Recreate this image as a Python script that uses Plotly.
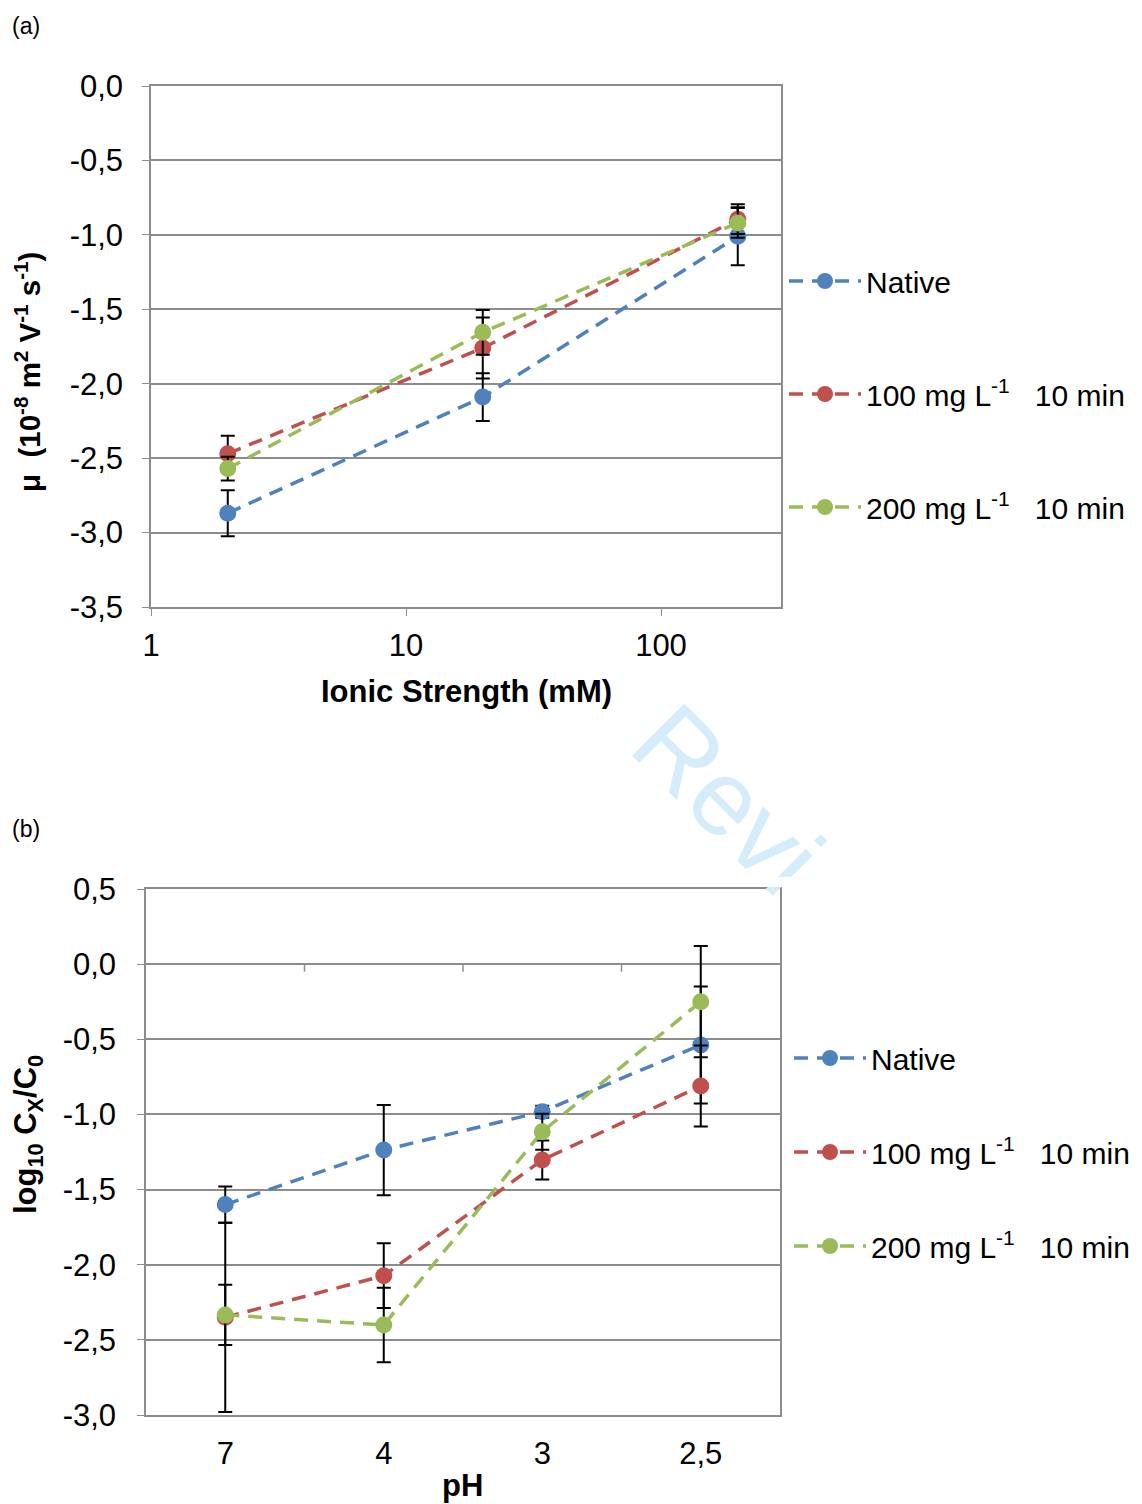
import plotly.graph_objects as go

# page is shown with an 8 px body margin, so the figure is offset by 8 px
W, H = 1134, 1496
PAD = 8

# (a) mobility vs ionic strength
ionic_mM = [2, 20, 200]
mu_native = [-2.87, -2.09, -1.01]
mu_native_err = [0.155, 0.16, 0.195]
mu_100 = [-2.47, -1.76, -0.895]
mu_100_err = [0.12, 0.205, 0.10]
mu_200 = [-2.57, -1.655, -0.92]
mu_200_err = [0.08, 0.15, 0.10]
mu_ticks = [0.0, -0.5, -1.0, -1.5, -2.0, -2.5, -3.0, -3.5]
mu_ticktext = ["0,0", "-0,5", "-1,0", "-1,5", "-2,0", "-2,5", "-3,0", "-3,5"]
ionic_ticks = [1, 10, 100]

# (b) log reduction vs pH
ph_labels = ["7", "4", "3", "2,5"]
lr_native = [-1.60, -1.237, -0.982, -0.538]
lr_native_err = [0.12, 0.30, 0.04, 0.39]
lr_100 = [-2.35, -2.073, -1.303, -0.811]
lr_100_err = [0.63, 0.215, 0.13, 0.27]
lr_200 = [-2.334, -2.401, -1.115, -0.25]
lr_200_err = [0.20, 0.248, 0.12, 0.37]
lr_ticks = [0.5, 0.0, -0.5, -1.0, -1.5, -2.0, -2.5, -3.0]
lr_ticktext = ["0,5", "0,0", "-0,5", "-1,0", "-1,5", "-2,0", "-2,5", "-3,0"]

names = ["Native", "100 mg L<sup>-1</sup>\u00a0\u00a0 10 min", "200 mg L<sup>-1</sup>\u00a0\u00a0 10 min"]
colors = ["#4F81BD", "#C0504D", "#9BBB59"]
FONT = "Liberation Sans, Arial, sans-serif"
GRID = "#8c8c8c"


def px_x(p):
    return (p - PAD) / W


def px_y(p):
    return 1 - (p - PAD) / H


fig = go.Figure()

series_a = [(mu_native, mu_native_err), (mu_100, mu_100_err), (mu_200, mu_200_err)]
for i, (vals, errs) in enumerate(series_a):
    fig.add_trace(go.Scatter(
        x=ionic_mM, y=vals, name=names[i], mode="lines+markers",
        line=dict(color=colors[i], width=3.5, dash="14px,9px"),
        marker=dict(color=colors[i], size=17),
        error_y=dict(type="data", array=errs, color="black", thickness=2, width=7),
        xaxis="x", yaxis="y", legend="legend", legendgroup="a%d" % i,
    ))

series_b = [(lr_native, lr_native_err), (lr_100, lr_100_err), (lr_200, lr_200_err)]
for i, (vals, errs) in enumerate(series_b):
    fig.add_trace(go.Scatter(
        x=ph_labels, y=vals, name=names[i], mode="lines+markers",
        line=dict(color=colors[i], width=3.5, dash="14px,9px"),
        marker=dict(color=colors[i], size=17),
        error_y=dict(type="data", array=errs, color="black", thickness=2, width=7),
        xaxis="x2", yaxis="y2", legend="legend2", legendgroup="b%d" % i,
    ))

tickfont = dict(family=FONT, size=31, color="black")
axis_common = dict(showline=True, linecolor=GRID, linewidth=1.5, mirror=True,
                   zeroline=False, tickfont=tickfont)

fig.update_layout(
    width=W, height=H,
    margin=dict(l=0, r=0, t=0, b=0, autoexpand=False),
    paper_bgcolor="white", plot_bgcolor="white",
    font=dict(family=FONT, color="black"),
    xaxis=dict(axis_common, type="log", range=[0, 2.4706],
               domain=[px_x(151), px_x(781)], anchor="y",
               tickvals=ionic_ticks, ticktext=[str(v) for v in ionic_ticks],
               ticks="outside", ticklen=7, tickcolor=GRID, ticklabelstandoff=3,
               showgrid=False),
    yaxis=dict(axis_common, range=[-3.5, 0], domain=[px_y(607), px_y(86)], anchor="x",
               tickvals=mu_ticks, ticktext=mu_ticktext,
               ticks="outside", ticklen=7, tickcolor=GRID, ticklabelstandoff=13,
               showgrid=True, gridcolor=GRID, gridwidth=1.5),
    xaxis2=dict(axis_common, type="category", range=[-0.5, 3.5],
                domain=[px_x(146), px_x(780)], anchor="y2",
                ticks="", showgrid=False, ticklabelstandoff=10),
    yaxis2=dict(axis_common, range=[-3.0, 0.5], domain=[px_y(1415), px_y(889)], anchor="x2",
                tickvals=lr_ticks, ticktext=lr_ticktext,
                ticks="outside", ticklen=7, tickcolor=GRID, ticklabelstandoff=15,
                showgrid=True, gridcolor=GRID, gridwidth=1.5),
    legend=dict(x=px_x(784), y=px_y(255), xanchor="left", yanchor="top",
                font=dict(family=FONT, size=30), itemwidth=72, tracegroupgap=71,
                bgcolor="rgba(0,0,0,0)"),
    legend2=dict(x=px_x(789), y=px_y(1032), xanchor="left", yanchor="top",
                 font=dict(family=FONT, size=30), itemwidth=72, tracegroupgap=52,
                 bgcolor="rgba(0,0,0,0)"),
)

# category boundary ticks on the horizontal axis crossing at 0
for k in range(1, len(ph_labels)):
    fig.add_shape(type="line", xref="x2", yref="y2", x0=k - 0.5, x1=k - 0.5,
                  y0=0, y1=-0.05, line=dict(color=GRID, width=1.5))


def label(text, x, y, size, angle=0, xanchor="center"):
    fig.add_annotation(text=text, x=px_x(x), y=px_y(y), xref="paper", yref="paper",
                       xanchor=xanchor, yanchor="middle", showarrow=False,
                       textangle=angle, font=dict(family=FONT, size=size))


# axis titles and panel labels
label("<b>Ionic Strength (mM)</b>", 466, 691, 31)
label("<b>pH</b>", 462, 1485, 31)
label("<b>\u03bc  (10<sup>-8</sup> m<sup>2</sup> V<sup>-1</sup> s<sup>-1</sup>)</b>", 28, 372, 29.5, -90)
label("<b>log<sub>10</sub> C<sub>X</sub>/C<sub>0</sub></b>", 28, 1135, 31, -90)
label("(a)", 10, 26, 23, xanchor="left")
label("(b)", 10, 829, 23, xanchor="left")

# partly hidden watermark
fig.add_shape(type="rect", xref="paper", yref="paper", layer="above",
              x0=px_x(635), x1=px_x(835), y0=px_y(892), y1=px_y(692),
              fillcolor="rgba(0,0,0,0)", line=dict(width=0),
              label=dict(text="Revi", textangle=45, textposition="middle center",
                         font=dict(family=FONT, size=107, color="#d5edfa")))
fig.add_shape(type="rect", xref="paper", yref="paper", layer="above",
              x0=px_x(600), x1=px_x(1000), y0=px_y(887), y1=px_y(877),
              fillcolor="white", line=dict(width=0))
fig.add_shape(type="rect", xref="paper", yref="paper", layer="above",
              x0=px_x(783), x1=px_x(1000), y0=px_y(970), y1=px_y(877),
              fillcolor="white", line=dict(width=0))

fig.write_html("out.html")
